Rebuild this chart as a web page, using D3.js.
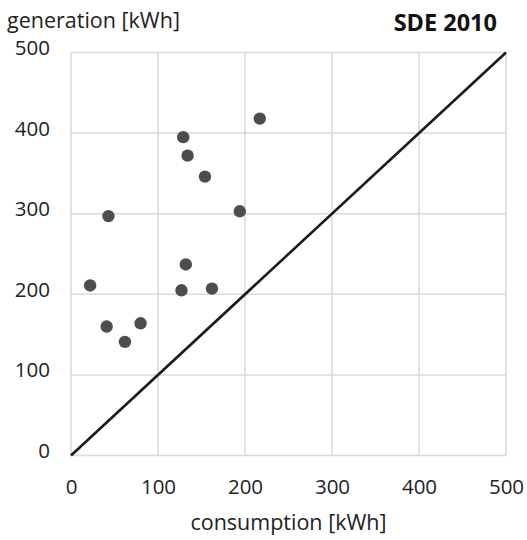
<!DOCTYPE html>
<html><head><meta charset="utf-8">
<script src="https://cdn.jsdelivr.net/npm/d3@7"></script>
<style>body{margin:0;background:#fff}svg{display:block}</style>
</head><body>
<script>
const consumption = [217, 129, 134, 154, 194, 43, 132, 22, 127, 162, 41, 80, 62];
const generation  = [418, 395, 372, 346, 303, 297, 237, 211, 205, 207, 160, 164, 141];
const xTicks = [0, 100, 200, 300, 400, 500];
const yTicks = [0, 100, 200, 300, 400, 500];
const diagonal = [0, 500];
const xLabel = "consumption [kWh]";
const yLabel = "generation [kWh]";
const title = "SDE 2010";

const W = 527, H = 540;
const svg = d3.select("body").append("svg").attr("width", W).attr("height", H);
const font = "'Open Sans', sans-serif";
const x = d3.scaleLinear().domain([0, 500]).range([71, 506]);
const y = d3.scaleLinear().domain([0, 500]).range([455.5, 52.5]);

// grid
svg.append("g").selectAll("line").data(xTicks).join("line")
  .attr("x1", d => x(d)).attr("x2", d => x(d)).attr("y1", y(0)).attr("y2", y(500))
  .attr("stroke", "#d9d9d9").attr("stroke-width", 1.5);
svg.append("g").selectAll("line").data(yTicks).join("line")
  .attr("y1", d => y(d)).attr("y2", d => y(d)).attr("x1", x(0)).attr("x2", x(500))
  .attr("stroke", "#d9d9d9").attr("stroke-width", 1.5);

// axes labels via d3 axes (no lines)
const xa = svg.append("g").attr("transform", `translate(0,${y(0)})`)
  .call(d3.axisBottom(x).tickValues(xTicks).tickSize(0).tickPadding(24));
const ya = svg.append("g").attr("transform", `translate(${x(0)},0)`)
  .call(d3.axisLeft(y).tickValues(yTicks).tickSize(0).tickPadding(21));
[xa, ya].forEach(a => {
  a.select(".domain").remove();
  a.selectAll("text").attr("font-family", font).attr("font-size", 20.5).attr("fill", "#222");
});
ya.selectAll("text").attr("dy", "0.1em");

// diagonal
svg.append("line")
  .attr("x1", x(diagonal[0])).attr("y1", y(diagonal[0]))
  .attr("x2", x(diagonal[1])).attr("y2", y(diagonal[1]))
  .attr("stroke", "#1a1a1a").attr("stroke-width", 2.6);

// points
svg.append("g").selectAll("circle").data(consumption.map((c, i) => [c, generation[i]])).join("circle")
  .attr("cx", d => x(d[0])).attr("cy", d => y(d[1])).attr("r", 6.2).attr("fill", "#4d4d4d");

svg.append("text").attr("x", 7).attr("y", 28).attr("font-family", font).attr("font-size", 21.5)
  .attr("fill", "#222").text(yLabel);
svg.append("text").attr("x", 497).attr("y", 31).attr("text-anchor", "end").attr("font-family", font)
  .attr("font-size", 23.5).attr("font-weight", "bold").attr("fill", "#111").text(title);
svg.append("text").attr("x", (x(0) + x(500)) / 2).attr("y", 530).attr("text-anchor", "middle")
  .attr("font-family", font).attr("font-size", 21.5).attr("fill", "#222").text(xLabel);
</script>
</body></html>
